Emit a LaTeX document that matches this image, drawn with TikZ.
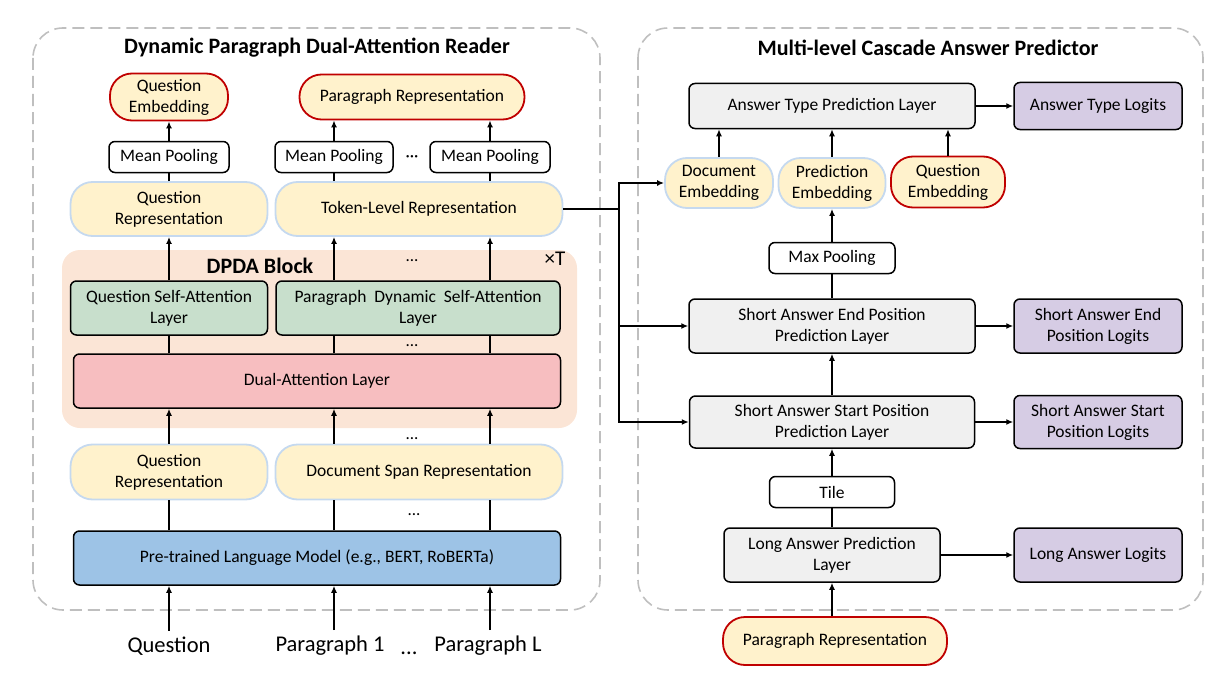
\documentclass[tikz,border=0pt]{standalone}
\usepackage{fontspec}
\setmainfont{Carlito}
\usetikzlibrary{arrows.meta}
\definecolor{repfill}{HTML}{FFF2CC}
\definecolor{repline}{HTML}{C5D9EF}
\definecolor{embline}{HTML}{C00000}
\definecolor{attfill}{HTML}{C8DFCC}
\definecolor{dualfill}{HTML}{F7BEC0}
\definecolor{blockfill}{HTML}{FBE5D6}
\definecolor{plmfill}{HTML}{9DC3E6}
\definecolor{layerfill}{HTML}{F0F0F0}
\definecolor{logitfill}{HTML}{D6CCE4}
\definecolor{panelline}{HTML}{BFBFBF}

\begin{document}
\begin{tikzpicture}[x=1pt,y=-1pt]
\tikzset{
  txt/.style={font=\fontsize{17.5}{21}\selectfont, align=center},
  box/.style={txt, draw, line width=1.5pt, rounded corners=6pt, inner sep=2pt},
  pool/.style={box, fill=white, minimum height=31pt},
  layer/.style={box, fill=layerfill},
  logit/.style={box, fill=logitfill, minimum width=168pt},
  rep/.style={txt, draw=repline, line width=1.8pt, fill=repfill, rounded corners=22pt, inner sep=2pt},
  emb/.style={txt, draw=embline, line width=1.8pt, fill=repfill, rounded corners=22pt, inner sep=2pt},
  panel/.style={draw=panelline, line width=1.6pt, dash pattern=on 12pt off 6pt, rounded corners=30pt},
  title/.style={font=\fontsize{22}{26}\selectfont\bfseries},
  dots/.style={font=\fontsize{17}{20}\selectfont},
  input/.style={font=\fontsize{22.5}{26}\selectfont, inner sep=6pt},
  arr/.style={line width=1.5pt, -{Latex[length=7pt,width=6pt]}},
  ln/.style={line width=1.5pt}
}
\useasboundingbox (0,0) rectangle (1227,685);

% panels
\draw[panel] (33,28) rectangle (600,610);
\draw[panel] (638,28) rectangle (1203,610);
\node[title] (ltitle) at (317,48) {Dynamic Paragraph Dual-Attention Reader};
\node[title] (rtitle) at (928,48) {Multi-level Cascade Answer Predictor};

% DPDA block
\fill[blockfill, rounded corners=18pt] (62,250) rectangle (577,428);
\node[title] (dpda) at (260,266) {DPDA Block};
\node[font=\fontsize{21}{24}\selectfont] (times) at (555,259) {×T};

% reader
\node[emb, minimum width=118pt, minimum height=47pt] (qemb) at (169,97) {Question\\Embedding};
\node[emb, minimum width=225pt, minimum height=45pt] (prep) at (412,97) {Paragraph Representation};
\node[pool, minimum width=120pt] (mp1) at (169,157) {Mean Pooling};
\node[pool, minimum width=118pt] (mp2) at (334,157) {Mean Pooling};
\node[pool, minimum width=120pt] (mp3) at (490,157) {Mean Pooling};
\node[dots] (d1) at (412,159) {···};
\node[rep, minimum width=197pt, minimum height=54pt] (qrep) at (169,209) {Question\\Representation};
\node[rep, minimum width=287pt, minimum height=54pt] (tok) at (419,209) {Token-Level Representation};
\node[box, fill=attfill, minimum width=197pt, minimum height=54pt] (qsa) at (169,308) {Question Self-Attention\\Layer};
\node[box, fill=attfill, minimum width=284pt, minimum height=54pt] (psa) at (418,308) {Paragraph\ \ Dynamic\ \ Self-Attention\\Layer};
\node[box, fill=dualfill, minimum width=487pt, minimum height=54pt] (dual) at (317,381) {Dual-Attention Layer};
\node[rep, minimum width=197pt, minimum height=55pt] (qrep2) at (169,472) {Question\\Representation};
\node[rep, minimum width=287pt, minimum height=55pt] (dsr) at (419,472) {Document Span Representation};
\node[box, fill=plmfill, minimum width=487pt, minimum height=54pt] (plm) at (317,558) {Pre-trained Language Model (e.g., BERT, RoBERTa)};
\node[dots] (d2) at (412,261) {...};
\node[dots] (d3) at (412,346) {...};
\node[dots] (d4) at (412,439) {...};
\node[dots] (d5) at (414,515) {...};

\node[input] (qin) at (169,646) {Question};
\node[input] (p1in) at (330,646) {Paragraph 1};
\node[input] (pLin) at (488,646) {Paragraph L};
\node[input, inner sep=0pt] (d6) at (409,653) {...};

\draw[arr] (qin.north) -- (qin.north |- plm.south);
\draw[arr] (p1in.north -| mp2) -- (plm.south -| mp2);
\draw[arr] (pLin.north -| mp3) -- (plm.south -| mp3);
\draw[ln] (plm.north -| qrep2) -- (qrep2.south);
\draw[ln] (plm.north -| mp2) -- (dsr.south -| mp2);
\draw[ln] (plm.north -| mp3) -- (dsr.south -| mp3);
\draw[arr] (qrep2.north) -- (qrep2.north |- dual.south);
\draw[arr] (dsr.north -| mp2) -- (dual.south -| mp2);
\draw[arr] (dsr.north -| mp3) -- (dual.south -| mp3);
\draw[ln] (dual.north -| qsa) -- (qsa.south);
\draw[ln] (dual.north -| mp2) -- (psa.south -| mp2);
\draw[ln] (dual.north -| mp3) -- (psa.south -| mp3);
\draw[arr] (qsa.north) -- (qrep.south);
\draw[arr] (psa.north -| mp2) -- (tok.south -| mp2);
\draw[arr] (psa.north -| mp3) -- (tok.south -| mp3);
\draw[ln] (qrep.north) -- (mp1.south);
\draw[ln] (tok.north -| mp2) -- (mp2.south);
\draw[ln] (tok.north -| mp3) -- (mp3.south);
\draw[arr] (mp1.north) -- (qemb.south);
\draw[arr] (mp2.north) -- (mp2.north |- prep.south);
\draw[arr] (mp3.north) -- (mp3.north |- prep.south);

% predictor
\node[layer, minimum width=286pt, minimum height=45pt] (atype) at (832,106) {Answer Type Prediction Layer};
\node[logit, minimum height=47pt] (atlog) at (1098,106) {Answer Type Logits};
\node[rep, minimum width=108pt, minimum height=50pt] (demb) at (719,183) {Document\\Embedding};
\node[rep, minimum width=107pt, minimum height=50pt] (pemb) at (832,183) {Prediction\\Embedding};
\node[emb, minimum width=114pt, minimum height=51pt] (qemb2) at (948,182) {Question\\Embedding};
\node[pool, minimum width=126pt] (maxp) at (832,258) {Max Pooling};
\node[layer, minimum width=286pt, minimum height=54pt] (send) at (832,326) {Short Answer End Position\\Prediction Layer};
\node[logit, minimum height=54pt] (sendlog) at (1098,326) {Short Answer End\\Position Logits};
\node[layer, minimum width=285pt, minimum height=52pt] (sstart) at (832,422) {Short Answer Start Position\\Prediction Layer};
\node[logit, minimum height=53pt] (sstartlog) at (1098,422) {Short Answer Start\\Position Logits};
\node[pool, minimum width=125pt] (tile) at (832,492) {Tile};
\node[layer, minimum width=216pt, minimum height=54pt] (long) at (832,555) {Long Answer Prediction\\Layer};
\node[logit, minimum height=54pt] (longlog) at (1098,555) {Long Answer Logits};
\node[emb, minimum width=224pt, minimum height=48pt] (prep2) at (835,641) {Paragraph Representation};

\coordinate (jn) at (619,209);
\draw[ln] (tok.east) -- (jn);
\draw[arr] (jn) |- (demb.west);
\draw[arr] (jn) |- (send.west);
\draw[arr] (jn) |- (sstart.west);

\draw[arr] (demb.north) -- (demb.north |- atype.south);
\draw[arr] (pemb.north) -- (atype.south);
\draw[arr] (qemb2.north) -- (qemb2.north |- atype.south);
\draw[arr] (maxp.north) -- (pemb.south);
\draw[ln] (send.north) -- (maxp.south);
\draw[arr] (sstart.north) -- (send.south);
\draw[arr] (tile.north) -- (sstart.south);
\draw[ln] (long.north) -- (tile.south);
\draw[arr] (prep2.north -| long) -- (long.south);

\draw[arr] (atype.east) -- (atlog.west);
\draw[arr] (send.east) -- (sendlog.west);
\draw[arr] (sstart.east) -- (sstartlog.west);
\draw[arr] (long.east) -- (longlog.west);
\end{tikzpicture}
\end{document}
